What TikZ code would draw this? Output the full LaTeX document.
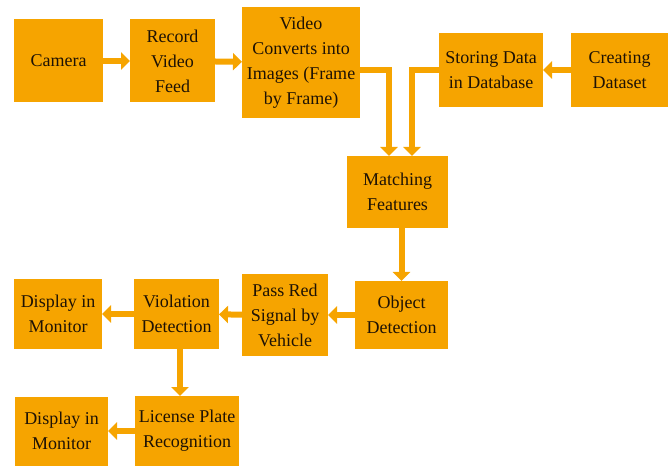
\documentclass[tikz,border=0pt]{standalone}
\usepackage{fontspec}
\setmainfont{Liberation Serif}
\usetikzlibrary{arrows.meta}
\definecolor{boxorange}{RGB}{246,164,0}
\definecolor{boxtext}{RGB}{30,18,5}

\begin{document}
\begin{tikzpicture}[x=1bp,y={(0bp,-1bp)},->,>={Triangle[length=9bp,width=17bp]},
                        line width=6bp,draw=boxorange,
                        block/.style={rectangle,fill=boxorange,draw=none,inner sep=1bp,outer sep=0pt,align=center,
                                      text=boxtext,font=\fontsize{18bp}{25bp}\selectfont}]

        \useasboundingbox (0,0) rectangle (670,466);

        % top row
        \node[block,minimum width=89bp,minimum height=83bp] (camera) at (58.5,61) {Camera};
        \node[block,minimum width=85bp,minimum height=83bp] (record) at (172.5,61) {Record\\Video\\Feed};
        \node[block,minimum width=118bp,minimum height=111bp] (video) at (301,62.5) {Video\\Converts into\\Images (Frame\\by Frame)};
        \node[block,minimum width=104bp,minimum height=74bp] (storing) at (491,70) {Storing Data\\in Database};
        \node[block,minimum width=97bp,minimum height=74bp] (creating) at (619.5,70) {Creating\\Dataset};

        \node[block,minimum width=101bp,minimum height=72bp] (matching) at (397.5,192) {Matching\\Features};

        % middle row
        \node[block,minimum width=93bp,minimum height=68bp] (object) at (401.5,315) {Object\\Detection};
        \node[block,minimum width=86bp,minimum height=82bp] (pass) at (285,315) {Pass Red\\Signal by\\Vehicle};
        \node[block,minimum width=85bp,minimum height=69bp] (violation) at (176.5,314) {Violation\\Detection};
        \node[block,minimum width=88bp,minimum height=69bp] (displayone) at (58,314) {Display in\\Monitor};

        % bottom row
        \node[block,minimum width=104bp,minimum height=70bp] (license) at (187,431) {License Plate\\Recognition};
        \node[block,minimum width=93bp,minimum height=69bp] (displaytwo) at (61.5,431) {Display in\\Monitor};

        \path [->] (camera) edge node {} (record);
        \path [->] (record) edge node {} (video);
        \path [->] (creating) edge node {} (storing);
        \draw [->] (video.east |- storing.west) -| ([xshift=-8.5bp]matching.north);
        \draw [->] (storing.west) -| ([xshift=14.5bp]matching.north);
        \draw [->] (matching.south -| object.north) -- (object.north);
        \path [->] (object) edge node {} (pass);
        \path [->] (pass) edge node {} (violation);
        \path [->] (violation) edge node {} (displayone);
        \draw [->] ([xshift=3.5bp]violation.south) -- ([xshift=3.5bp]violation.south |- license.north);
        \path [->] (license) edge node {} (displaytwo);
    \end{tikzpicture}
\end{document}
